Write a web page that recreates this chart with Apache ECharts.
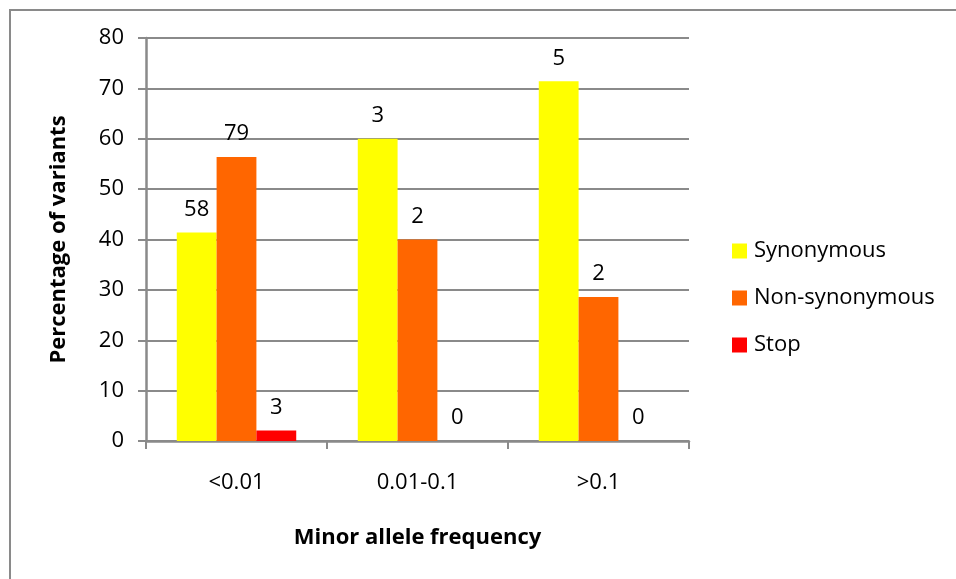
<!DOCTYPE html>
<html>
<head>
<meta charset="utf-8">
<script src="https://cdn.jsdelivr.net/npm/echarts@6/dist/echarts.min.js"></script>
<style>
  html, body { margin: 0; padding: 0; background: #fff; }
  #chart { width: 956px; height: 579px; }
</style>
</head>
<body>
<div id="chart"></div>
<script>
// Minor allele frequency bins
const categories = ['<0.01', '0.01-0.1', '>0.1'];

// Percentage of variants per class (bar heights)
const synonymousPct = [41.4, 60.0, 71.4];
const nonSynonymousPct = [56.4, 40.0, 28.6];
const stopPct = [2.1, 0, 0];

// Variant counts printed above each bar
const synonymousCount = [58, 3, 5];
const nonSynonymousCount = [79, 2, 2];
const stopCount = [3, 0, 0];

const yTicks = { min: 0, max: 80, interval: 10 };

const FONT = '"Open Sans", Lato, sans-serif';
const FS = 22;

function countLabel(counts) {
  return {
    show: true,
    position: 'top',
    distance: 12,
    fontFamily: FONT,
    fontSize: FS,
    color: '#000',
    formatter: p => String(counts[p.dataIndex])
  };
}

const chart = echarts.init(document.getElementById('chart'), null, { renderer: 'canvas' });

chart.setOption({
  animation: false,
  backgroundColor: '#fff',
  graphic: [{
    type: 'rect',
    shape: { x: 10, y: 10, width: 980, height: 620 },
    style: { fill: 'none', stroke: '#8a8a8a', lineWidth: 2 },
    silent: true,
    z: -1
  }],
  grid: { left: 146, right: 267, top: 38, bottom: 138 },
  legend: {
    orient: 'vertical',
    left: 727,
    top: 235,
    itemWidth: 15,
    itemHeight: 15,
    itemGap: 25,
    icon: 'rect',
    textStyle: { fontFamily: FONT, fontSize: FS, lineHeight: 20, color: '#000', padding: [0, 0, 0, 2] },
    data: ['Synonymous', 'Non-synonymous', 'Stop']
  },
  xAxis: {
    type: 'category',
    data: categories,
    name: 'Minor allele frequency',
    nameLocation: 'middle',
    nameGap: 86,
    nameTextStyle: { fontFamily: FONT, fontSize: FS, fontWeight: 'bold', color: '#000' },
    axisLine: { lineStyle: { color: '#8a8a8a', width: 2.5 } },
    axisTick: { show: true, length: 8, alignWithLabel: false, lineStyle: { color: '#8a8a8a', width: 2 } },
    axisLabel: { fontFamily: FONT, fontSize: FS, color: '#000', margin: 31 }
  },
  yAxis: {
    type: 'value',
    min: yTicks.min,
    max: yTicks.max,
    interval: yTicks.interval,
    name: 'Percentage of variants',
    nameLocation: 'middle',
    nameGap: 76,
    nameRotate: 90,
    nameTextStyle: { fontFamily: FONT, fontSize: FS, fontWeight: 'bold', color: '#000' },
    axisLine: { show: true, lineStyle: { color: '#8a8a8a', width: 2.5 } },
    axisTick: { show: true, length: 8, lineStyle: { color: '#8a8a8a', width: 2 } },
    axisLabel: { fontFamily: FONT, fontSize: FS, color: '#000', margin: 22 },
    splitLine: { lineStyle: { color: '#8a8a8a', width: 2 } }
  },
  series: [
    {
      name: 'Synonymous', type: 'bar', data: synonymousPct,
      itemStyle: { color: '#FFFF00' },
      barGap: '0%', barCategoryGap: '34%',
      label: countLabel(synonymousCount)
    },
    {
      name: 'Non-synonymous', type: 'bar', data: nonSynonymousPct,
      itemStyle: { color: '#FF6600' },
      barGap: '0%', barCategoryGap: '34%',
      label: countLabel(nonSynonymousCount)
    },
    {
      name: 'Stop', type: 'bar', data: stopPct,
      itemStyle: { color: '#FF0000' },
      barGap: '0%', barCategoryGap: '34%',
      label: countLabel(stopCount)
    }
  ]
});
</script>
</body>
</html>
